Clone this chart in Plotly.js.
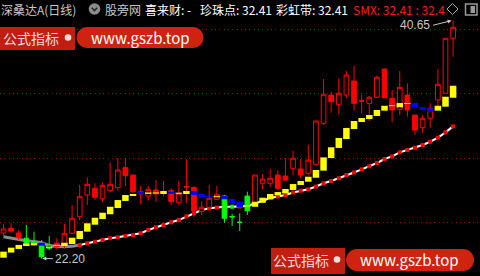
<!DOCTYPE html>
<html><head><meta charset="utf-8">
<script src="https://cdn.plot.ly/plotly-3.0.1.min.js"></script>
<style>html,body{margin:0;padding:0;background:#000;}#chart{width:480px;height:276px;}</style>
</head><body><div id="chart"></div>
<script>
// ---- data (prices) ----
const opens = [24.19, 24.55, 24.19, 23.78, 23.49, 23.33, 23.00, 23.39, 23.20, 24.16,
 25.45, 27.13, 27.65, 26.84, 27.47, 27.70, 29.25, 28.68, 27.40, 27.05,
 27.52, 27.36, 27.47, 26.57, 27.79, 27.73, 25.84, 26.18, 26.80, 27.05,
 25.47, 25.02, 27.05, 26.49, 28.04, 28.04, 28.68, 28.60, 29.20, 29.15,
 28.81, 29.51, 32.69, 34.88, 34.16, 34.88, 35.97, 34.43, 34.24, 34.71,
 36.90, 34.63, 33.78, 34.88, 33.33, 32.35, 33.08, 34.50, 35.02, 39.28];
const highs = [24.88, 24.94, 24.42, 24.81, 24.29, 23.64, 23.95, 23.78, 24.88, 26.36,
 27.91, 28.50, 28.04, 28.09, 29.64, 29.98, 29.98, 28.68, 27.83, 27.83,
 28.29, 28.22, 27.65, 28.22, 29.90, 27.78, 26.61, 27.91, 27.83, 27.13,
 25.66, 25.71, 27.39, 28.68, 28.76, 29.15, 29.07, 29.98, 30.57, 29.92,
 31.01, 32.87, 36.12, 35.14, 36.18, 36.74, 37.15, 34.88, 34.81, 36.38,
 36.90, 35.27, 36.74, 35.79, 33.33, 33.33, 34.24, 36.90, 39.28, 40.65];
const lows = [23.95, 24.16, 23.64, 23.26, 23.20, 22.20, 22.87, 22.92, 23.00, 24.11,
 25.19, 26.36, 26.74, 26.61, 27.39, 27.47, 27.83, 27.29, 26.41, 26.69,
 26.61, 27.00, 26.36, 26.36, 26.49, 25.45, 25.58, 26.10, 26.74, 24.98,
 24.73, 24.34, 25.58, 26.43, 27.57, 27.73, 27.52, 28.22, 28.68, 28.43,
 28.68, 29.46, 32.56, 33.51, 33.39, 34.63, 33.67, 33.47, 32.87, 34.65,
 34.67, 32.77, 33.33, 33.20, 31.78, 31.96, 32.35, 33.98, 35.02, 37.85];
const closes = [24.50, 24.34, 23.82, 23.43, 23.37, 22.35, 23.26, 23.12, 24.16, 25.33,
 27.00, 27.96, 26.95, 27.88, 27.96, 29.07, 28.63, 27.39, 27.21, 27.57,
 27.21, 27.29, 26.61, 27.26, 27.75, 25.91, 26.18, 26.88, 27.19, 25.33,
 25.43, 25.01, 25.91, 28.68, 28.37, 28.43, 27.65, 28.29, 29.98, 28.68,
 29.84, 32.87, 34.94, 34.36, 35.02, 36.43, 34.24, 34.40, 34.71, 36.26,
 34.67, 33.72, 35.48, 33.72, 32.17, 33.08, 33.85, 35.71, 39.28, 40.13];
// candle colour class: r = red, g = green
const candleClass = ['r','r','r','g','g','g','g','r','r','r',
 'r','r','r','r','r','r','r','r','r','r',
 'r','r','r','r','r','r','r','r','r','g',
 'g','g','g','r','r','r','r','r','r','r',
 'r','r','r','r','r','r','r','r','r','r',
 'r','r','r','r','r','r','r','r','r','r'];
// rainbow band blocks
const bandHi = [22.74, 23.05, 23.26, 23.39, 23.39, 23.43, 23.12, 23.27, 23.43, 23.82,
 24.34, 24.94, 25.37, 25.76, 26.22, 26.74, 27.13, 27.21, 27.39, 27.33,
 27.33, 27.44, 27.39, 27.31, 27.44, 27.44, 27.21, 27.05, 27.04, 27.05,
 26.82, 26.61, 26.32, 26.61, 26.92, 27.21, 27.36, 27.60, 27.98, 28.22,
 28.55, 29.07, 30.05, 30.83, 31.55, 32.33, 32.87, 33.10, 33.33, 33.72,
 34.05, 34.09, 34.26, 34.26, 34.26, 33.95, 33.85, 34.05, 34.75, 35.60];
const bandLo = [22.27, 22.67, 22.95, 23.18, 23.23, 23.20, 23.04, 23.19, 23.18, 23.33,
 23.72, 24.29, 24.83, 25.27, 25.64, 26.12, 26.67, 27.05, 27.19, 27.22,
 27.25, 27.21, 27.23, 27.23, 27.21, 27.13, 26.95, 26.98, 26.96, 26.80,
 26.49, 26.18, 26.24, 26.22, 26.53, 26.80, 27.11, 27.26, 27.52, 27.91,
 28.16, 28.47, 29.02, 30.00, 30.78, 31.47, 32.25, 32.79, 33.02, 33.26,
 33.67, 34.02, 33.93, 34.19, 33.90, 33.72, 33.59, 33.67, 33.98, 34.67];
const bandClass = ['y','y','y','y','y','b','y','y','y','y',
 'y','y','y','y','y','y','y','y','b','y',
 'y','y','b','y','y','b','b','b','y','b',
 'b','b','y','y','y','y','y','y','y','y',
 'y','y','y','y','y','y','y','y','y','y',
 'y','y','y','y','b','b','b','y','y','y'];
// moving average line (珍珠点)
const maLine = [23.90, 23.78, 23.68, 23.59, 23.53, 23.43, 23.22, 23.14, 23.12, 23.15,
 23.26, 23.39, 23.51, 23.64, 23.78, 23.85, 23.95, 24.03, 24.16, 24.42,
 24.63, 24.81, 25.02, 25.19, 25.47, 25.74, 25.97, 26.10, 26.16, 26.22,
 26.22, 26.24, 26.28, 26.47, 26.71, 26.90, 27.02, 27.13, 27.33, 27.47,
 27.57, 27.79, 28.04, 28.22, 28.43, 28.68, 28.88, 29.12, 29.36, 29.61,
 29.92, 30.12, 30.44, 30.62, 30.80, 31.01, 31.26, 31.57, 31.99, 32.45];
const maTurn = 10; // index where line turns from grey (falling) to rising
const gridPrices = [25, 30, 35, 40];
const highLabel = '40.65', lowLabel = '22.20';

// ---- build ----
const idx = opens.map((_, i) => i);
const XR = [-0.459, 62.53], YR = [20.853, 42.248];
const W = 480, H = 276;
const PX = v => v / W, PY = v => 1 - v / H;

function candleTrace(cls, col) {
  const s = idx.filter(i => candleClass[i] === cls);
  return {type: 'candlestick', xaxis: 'x2', yaxis: 'y2', x: s,
    open: s.map(i => opens[i]), high: s.map(i => highs[i]),
    low: s.map(i => lows[i]), close: s.map(i => closes[i]),
    increasing: {line: {color: col, width: 1}, fillcolor: '#000000'},
    decreasing: {line: {color: col, width: 1}, fillcolor: col},
    whiskerwidth: 0, hoverinfo: 'skip', showlegend: false};
}
function bandTrace(cls, col) {
  const xs = [], ys = [];
  idx.filter(i => bandClass[i] === cls).forEach(i => {
    xs.push(i, i, null); ys.push(bandLo[i], bandHi[i], null);
  });
  return {type: 'scatter', mode: 'lines', xaxis: 'x3', yaxis: 'y3', x: xs, y: ys,
    line: {color: col, width: 6.5}, hoverinfo: 'skip', showlegend: false};
}
const maIdxA = idx.filter(i => i <= maTurn), maIdxB = idx.filter(i => i >= maTurn);
const traces = [
  {type: 'scatter', mode: 'lines', x: maIdxA, y: maIdxA.map(i => maLine[i]),
   line: {color: '#8a8a8a', width: 3}, hoverinfo: 'skip'},
  {type: 'scatter', mode: 'lines+markers', x: maIdxB, y: maIdxB.map(i => maLine[i]),
   line: {color: '#ffffff', width: 2},
   marker: {symbol: 'square', size: 4, color: maIdxB.map(i => i === 30 ? '#00ff00' : '#ff0000')},
   hoverinfo: 'skip'},
  candleTrace('r', '#ff0000'),
  candleTrace('g', '#00ff00'),
  bandTrace('y', '#ffff00'),
  bandTrace('b', '#0000ff')
];

const hidden = {range: XR, visible: false, fixedrange: true, rangeslider: {visible: false}};
const CJK = '"Noto Sans CJK SC", "Noto Sans", sans-serif';
function txt(text, x, y, color, size, anchor, fam) {
  return {text, xref: 'paper', yref: 'paper', x: PX(x), y: PY(y), xanchor: anchor || 'left',
    yanchor: 'middle', showarrow: false, borderpad: 0,
    font: {family: fam || CJK, size: size || 12, color}};
}
const annotations = [
  txt('深桑达A(日线)', 0, 9, '#c8c8c8'),
  txt('股旁网', 104, 9, '#c8c8c8'),
  txt('喜来财: -', 144, 9, '#ffffff'),
  txt('珍珠点: 32.41', 199, 9, '#ffffff'),
  txt('彩虹带: 32.41', 275, 9, '#ffffff'),
  txt('SMX: 32.41 : 32.4', 352, 9, '#ff1a1a'),
  txt('公式指标', 2, 38, '#f3dcdc', 14),
  txt('www.gszb.top', 140, 37.5, '#ffffff', 15, 'center'),
  txt('公式指标', 272, 260, '#f3dcdc', 14),
  txt('www.gszb.top', 409, 259.5, '#ffffff', 15, 'center'),
  txt(highLabel, 399, 25, '#c8c8c8', 12, 'left', 'Liberation Sans, Arial, sans-serif'),
  txt(lowLabel, 54, 258.5, '#c8c8c8', 12, 'left', 'Liberation Sans, Arial, sans-serif'),
  {x: 58.8, y: 40.65, xref: 'x', yref: 'y', text: '', showarrow: true, ax: -20, ay: 5,
   arrowhead: 2, arrowsize: 0.8, arrowwidth: 1, arrowcolor: '#c8c8c8'},
  {x: 5.1, y: 22.20, xref: 'x', yref: 'y', text: '', showarrow: true, ax: 12, ay: 0,
   arrowhead: 2, arrowsize: 0.8, arrowwidth: 1, arrowcolor: '#c8c8c8'}
];
function rectPx(x0, y0, x1, y1, fill, line) {
  return {type: 'rect', xref: 'paper', yref: 'paper', x0: PX(x0), x1: PX(x1), y0: PY(y1), y1: PY(y0),
    fillcolor: fill, line: line || {width: 0}, layer: 'above'};
}
function circPx(cx, cy, r, fill, line) {
  return {type: 'circle', xref: 'paper', yref: 'paper', x0: PX(cx - r), x1: PX(cx + r), y0: PY(cy + r), y1: PY(cy - r),
    fillcolor: fill, line: line || {width: 0}, layer: 'above'};
}
function pathPx(pts, close, line, fill) {
  const d = pts.map((p, k) => (k ? 'L' : 'M') + PX(p[0]).toFixed(5) + ',' + PY(p[1]).toFixed(5)).join(' ') + (close ? ' Z' : '');
  return {type: 'path', xref: 'paper', yref: 'paper', path: d, line, fillcolor: fill || 'rgba(0,0,0,0)', layer: 'above'};
}
const shapes = [
  circPx(94.5, 9, 5.8, '#8c8c8c'),
  pathPx([[91.8, 7.8], [94.5, 10.6], [97.2, 7.8]], false, {color: '#262626', width: 1.6}),
  rectPx(446, 1, 480, 18, '#000000'),
  pathPx([[452.5, 3.5], [458, 9], [452.5, 14.5], [447, 9]], true, {color: '#a8a8a8', width: 1}),
  rectPx(465.5, 4, 477, 15, '#000000', {color: '#9a9a9a', width: 1.5}),
  rectPx(470.5, 6, 475, 13, '#9a9a9a'),
  // watermark badges
  rectPx(0, 27, 75, 50, '#bf1f10'),
  circPx(68, 37.5, 3.3, '#f3dede'),
  rectPx(87, 27, 193, 48, '#d0230f'),
  circPx(87, 37.5, 10.5, '#d0230f'),
  circPx(193, 37.5, 10.5, '#d0230f'),
  rectPx(271, 248, 345, 274, '#bf1f10'),
  circPx(337, 259.5, 3.3, '#f3dede'),
  rectPx(357, 249, 463, 271, '#d0230f'),
  circPx(357, 260, 11, '#d0230f'),
  circPx(463, 260, 11, '#d0230f')
];
// put badge texts above badges: annotations are drawn above shapes already
const layout = {
  width: W, height: H, margin: {l: 0, r: 0, t: 0, b: 0},
  paper_bgcolor: '#000000', plot_bgcolor: '#000000', showlegend: false,
  boxgap: 0.12, dragmode: false,
  xaxis: Object.assign({}, hidden),
  yaxis: {range: YR, fixedrange: true, showgrid: true, gridcolor: '#a00000', griddash: '1px,3.3px',
    gridwidth: 1, tickvals: gridPrices, showticklabels: false, zeroline: false, showline: false, ticks: ''},
  xaxis2: Object.assign({overlaying: 'x'}, hidden),
  yaxis2: {range: YR, overlaying: 'y', visible: false, fixedrange: true},
  xaxis3: Object.assign({overlaying: 'x'}, hidden),
  yaxis3: {range: YR, overlaying: 'y', visible: false, fixedrange: true},
  annotations, shapes
};
Plotly.newPlot('chart', traces, layout, {staticPlot: true, displayModeBar: false});
</script></body></html>
